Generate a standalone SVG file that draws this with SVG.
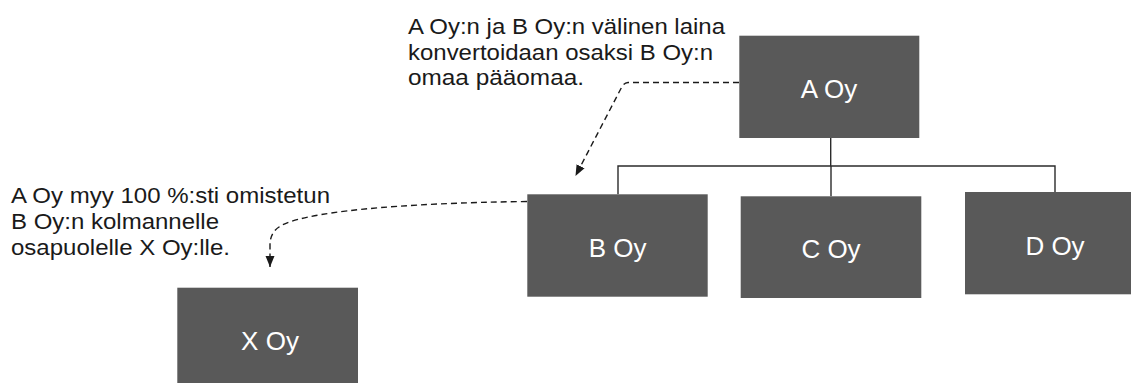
<svg xmlns="http://www.w3.org/2000/svg" width="1131" height="383" viewBox="0 0 1131 383">
  <style>
    .box { fill: #595959; }
    .label { font-family: "Liberation Sans", Arial, sans-serif; font-size: 26px; fill: #ffffff; text-anchor: middle; }
    .note { font-family: "Liberation Sans", Arial, sans-serif; font-size: 22px; fill: #1a1a1a; }
    .tree { fill: none; stroke: #2b2b2b; stroke-width: 1.4; }
    .dash { fill: none; stroke: #1a1a1a; stroke-width: 1.4; stroke-dasharray: 6 4; }
  </style>
  <defs>
    <marker id="arrow" markerUnits="userSpaceOnUse" markerWidth="12" markerHeight="12" viewBox="0 0 12 12" refX="11" refY="6" orient="auto">
      <path d="M0,1.5 L11,6 L0,10.5 Z" fill="#1a1a1a"/>
    </marker>
  </defs>

  <rect width="1131" height="383" fill="#ffffff"/>

  <!-- ownership tree lines -->
  <g id="connectors">
    <path class="tree" d="M830.7,138 V166 M618,194.3 V166 H1055 V192 M831,166 V196.3"/>
    <path class="dash" d="M739,82.5 H628 Q624,82.8 621.5,87.5 L575.5,176" marker-end="url(#arrow)"/>
    <path class="dash" d="M527,201.5 C 400,203 300,212 279,227 Q270,233 270,245 L270,267" marker-end="url(#arrow)"/>
  </g>

  <!-- notes -->
  <g id="note-loan">
    <text class="note" x="408" y="34" textLength="317" lengthAdjust="spacingAndGlyphs">A Oy:n ja B Oy:n välinen laina</text>
    <text class="note" x="408" y="59.5" textLength="305" lengthAdjust="spacingAndGlyphs">konvertoidaan osaksi B Oy:n</text>
    <text class="note" x="408" y="85" textLength="176" lengthAdjust="spacingAndGlyphs">omaa pääomaa.</text>
  </g>
  <g id="note-sale">
    <text class="note" x="11" y="203.3" textLength="319" lengthAdjust="spacingAndGlyphs">A Oy myy 100 %:sti omistetun</text>
    <text class="note" x="11" y="229" textLength="208" lengthAdjust="spacingAndGlyphs">B Oy:n kolmannelle</text>
    <text class="note" x="11" y="254.5" textLength="219" lengthAdjust="spacingAndGlyphs">osapuolelle X Oy:lle.</text>
  </g>

  <!-- companies -->
  <g id="a-oy">
    <rect class="box" x="739.3" y="35.7" width="180" height="102.3"/>
    <text class="label" x="829" y="98">A Oy</text>
  </g>
  <g id="b-oy">
    <rect class="box" x="527.3" y="194.3" width="180.4" height="102.4"/>
    <text class="label" x="617.7" y="256.5">B Oy</text>
  </g>
  <g id="c-oy">
    <rect class="box" x="740.7" y="196.3" width="180.6" height="101.7"/>
    <text class="label" x="831" y="257.5">C Oy</text>
  </g>
  <g id="d-oy">
    <rect class="box" x="965" y="192" width="180" height="102.3"/>
    <text class="label" x="1055" y="255">D Oy</text>
  </g>
  <g id="x-oy">
    <rect class="box" x="177.3" y="287.7" width="180.7" height="102"/>
    <text class="label" x="270" y="350">X Oy</text>
  </g>
</svg>
